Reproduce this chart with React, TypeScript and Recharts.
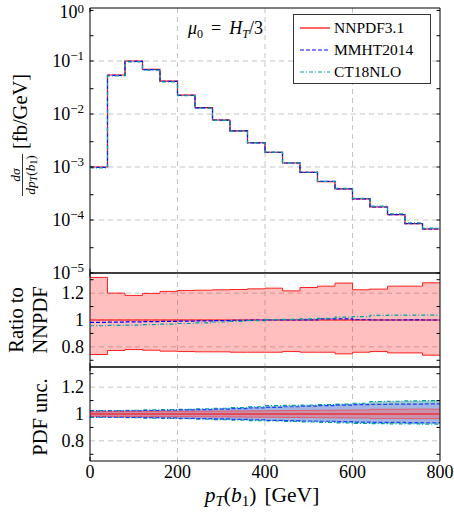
import React from "react";
import {
  ComposedChart,
  Line,
  Area,
  XAxis,
  YAxis,
  CartesianGrid,
  ReferenceLine,
  Legend,
} from "recharts";

// bin edges in GeV (20 bins of 40 GeV)
const binEdges = [0, 40, 80, 120, 160, 200, 240, 280, 320, 360, 400, 440, 480, 520, 560, 600, 640, 680, 720, 760, 800];

// dsigma/dpT(b1) [fb/GeV]
const nnpdfXsec = [1.0e-3, 0.0544, 0.1, 0.0697, 0.0418, 0.0228, 0.0132, 0.0077, 0.0048, 0.00287, 0.0019, 0.00119, 0.00079, 0.00053, 0.000385, 0.00025, 0.000176, 0.000126, 0.0000853, 0.0000676];
const mmhtXsec = [0.98e-3, 0.0536, 0.0987, 0.0689, 0.0414, 0.0226, 0.0131, 0.00767, 0.00479, 0.00286, 0.0019, 0.00119, 0.00079, 0.000535, 0.000388, 0.00025, 0.000176, 0.000126, 0.0000854, 0.0000676];
const ct18Xsec = [0.96e-3, 0.0522, 0.0962, 0.0673, 0.0405, 0.0222, 0.0129, 0.00758, 0.00475, 0.00286, 0.00191, 0.0012, 0.000796, 0.000536, 0.000394, 0.000256, 0.000182, 0.000131, 0.0000885, 0.0000701];

// ratio to NNPDF (scale band + central PDF sets)
const scaleBandUp = [1.317, 1.2, 1.183, 1.198, 1.213, 1.22, 1.222, 1.225, 1.227, 1.232, 1.237, 1.217, 1.242, 1.252, 1.275, 1.225, 1.23, 1.252, 1.252, 1.277];
const scaleBandDn = [0.743, 0.773, 0.78, 0.775, 0.768, 0.765, 0.763, 0.763, 0.76, 0.76, 0.76, 0.765, 0.76, 0.76, 0.748, 0.76, 0.765, 0.755, 0.755, 0.738];
const mmhtRatio = [0.983, 0.984, 0.986, 0.988, 0.99, 0.992, 0.994, 0.996, 0.998, 0.999, 1.0, 1.0, 1.001, 1.008, 1.009, 1.002, 1.0, 1.0, 1.001, 1.0];
const ct18Ratio = [0.957, 0.96, 0.962, 0.966, 0.97, 0.974, 0.978, 0.985, 0.99, 0.995, 1.003, 1.005, 1.008, 1.012, 1.022, 1.025, 1.035, 1.036, 1.037, 1.037];

// PDF uncertainty bands (relative)
const nnpdfPdfUp = [1.017, 1.018, 1.018, 1.019, 1.02, 1.02, 1.021, 1.022, 1.023, 1.024, 1.025, 1.026, 1.027, 1.028, 1.029, 1.03, 1.035, 1.035, 1.036, 1.036];
const nnpdfPdfDn = [0.983, 0.982, 0.982, 0.981, 0.98, 0.98, 0.979, 0.978, 0.977, 0.976, 0.975, 0.974, 0.973, 0.972, 0.971, 0.97, 0.966, 0.966, 0.965, 0.965];
const mmhtPdfUp = [1.021, 1.022, 1.024, 1.026, 1.028, 1.03, 1.033, 1.036, 1.04, 1.045, 1.05, 1.054, 1.058, 1.062, 1.066, 1.07, 1.072, 1.073, 1.074, 1.075];
const mmhtPdfDn = [0.978, 0.976, 0.975, 0.973, 0.971, 0.968, 0.966, 0.963, 0.96, 0.957, 0.953, 0.95, 0.948, 0.946, 0.943, 0.94, 0.938, 0.937, 0.936, 0.935];
const ct18PdfUp = [1.025, 1.026, 1.028, 1.03, 1.032, 1.035, 1.039, 1.043, 1.048, 1.054, 1.062, 1.064, 1.067, 1.07, 1.074, 1.08, 1.093, 1.095, 1.097, 1.1];
const ct18PdfDn = [0.975, 0.974, 0.972, 0.97, 0.968, 0.965, 0.962, 0.958, 0.955, 0.951, 0.948, 0.945, 0.942, 0.938, 0.934, 0.93, 0.928, 0.927, 0.926, 0.925];

const xMajorTicks = [0, 200, 400, 600, 800];
const xGridLines = [200, 400, 600];
const xMinorTicks = [0, 50, 100, 150, 200, 250, 300, 350, 400, 450, 500, 550, 600, 650, 700, 750, 800];
const logMajorTicks = [1e-5, 1e-4, 1e-3, 1e-2, 1e-1, 1];
const logGridLines = [1e-4, 1e-3, 1e-2, 1e-1];
const ratioLabelTicks = [0.8, 1, 1.2];
const ratioMinorTicks = [0.7, 0.8, 0.9, 1, 1.1, 1.2, 1.3];

const logMinorTicks: number[] = [];
for (let e = -5; e < 0; e++) {
  for (let m = 1; m <= 9; m++) logMinorTicks.push(m * Math.pow(10, e));
}

const series = [
  { key: "nnpdf", name: "NNPDF3.1", color: "#ff0000", dash: undefined as string | undefined },
  { key: "mmht", name: "MMHT2014", color: "#0000ff", dash: "4 2" },
  { key: "ct18", name: "CT18NLO", color: "#00a0a0", dash: "4 2 1 2" },
];

// one row per bin edge, last bin repeated so stepAfter closes at 800
const rows = binEdges.map((x, i) => {
  const b = Math.min(i, nnpdfXsec.length - 1);
  return {
    x,
    nnpdf: nnpdfXsec[b],
    mmht: mmhtXsec[b],
    ct18: ct18Xsec[b],
    scaleBand: [scaleBandDn[b], scaleBandUp[b]],
    mmhtRatio: mmhtRatio[b],
    ct18Ratio: ct18Ratio[b],
    nnpdfPdf: [nnpdfPdfDn[b], nnpdfPdfUp[b]],
    mmhtPdf: [mmhtPdfDn[b], mmhtPdfUp[b]],
    ct18Pdf: [ct18PdfDn[b], ct18PdfUp[b]],
  };
});

const FONT = "'Liberation Serif', 'Times New Roman', serif";
const W = 454;
const H = 516;
const AXIS_W = 90;
const RIGHT = 14;
const GRID = "#c4c4c4";
const TICK_FS = 18;
const LABEL_FS = 20.5;

const NoTick = () => <g />;

const LogTick = ({ y, payload }: any) => {
  const e = Math.round(Math.log10(payload.value));
  // keep the 10^0 label inside the picture
  const yy = e === 0 ? y + 9 : y + 6;
  return (
    <text x={84} y={yy} textAnchor="end" fontFamily={FONT} fontSize={TICK_FS} fill="#000">
      10
      <tspan dy={e === 0 ? -5 : -7} fontSize={13}>
        {e === 0 ? "0" : "\u2212" + Math.abs(e)}
      </tspan>
    </text>
  );
};

const RatioTick = ({ y, payload }: any) => (
  <text x={84} y={y + 6} textAnchor="end" fontFamily={FONT} fontSize={TICK_FS} fill="#000">
    {payload.value}
  </text>
);

const XTick = ({ x, payload }: any) => (
  <text x={x} y={478} textAnchor="middle" fontFamily={FONT} fontSize={TICK_FS} fill="#000">
    {payload.value}
  </text>
);

const LegendBox = () => (
  <div
    style={{
      width: 138,
      height: 70,
      boxSizing: "border-box",
      border: "1px solid #333",
      background: "#fff",
      paddingTop: 2,
      paddingLeft: 6,
      fontFamily: FONT,
      fontSize: 15.5,
    }}
  >
    {series.map((s) => (
      <div key={s.key} style={{ display: "flex", alignItems: "center", height: 22 }}>
        <svg width={30} height={6}>
          <line x1={0} x2={30} y1={3} y2={3} stroke={s.color} strokeWidth={1.2} strokeDasharray={s.dash} />
        </svg>
        <span style={{ marginLeft: 4, lineHeight: "22px" }}>{s.name}</span>
      </div>
    ))}
  </div>
);

// frame: four edge lines plus mirrored axes for the inward ticks
const frame = (yTicks: number[], yDomain: number[], log: boolean) => [
  <XAxis key="xb" xAxisId="xb" type="number" domain={[0, 800]} ticks={xMinorTicks} orientation="bottom" mirror height={1} tick={NoTick} axisLine={false} tickSize={4} tickLine={{ stroke: "#000" }} allowDataOverflow />,
  <XAxis key="xt" xAxisId="xt" type="number" domain={[0, 800]} ticks={xMinorTicks} orientation="top" mirror height={1} tick={NoTick} axisLine={false} tickSize={4} tickLine={{ stroke: "#000" }} allowDataOverflow />,
  <YAxis key="yl" yAxisId="yl" type="number" scale={log ? "log" : "linear"} domain={yDomain} ticks={yTicks} orientation="left" mirror width={1} tick={NoTick} axisLine={false} tickSize={3.5} tickLine={{ stroke: "#000" }} allowDataOverflow />,
  <YAxis key="yr" yAxisId="yr" type="number" scale={log ? "log" : "linear"} domain={yDomain} ticks={yTicks} orientation="right" mirror width={1} tick={NoTick} axisLine={false} tickSize={3.5} tickLine={{ stroke: "#000" }} allowDataOverflow />,
  <ReferenceLine key="fl" x={0} stroke="#000" strokeWidth={1} />,
  <ReferenceLine key="fr" x={800} stroke="#000" strokeWidth={1} />,
  <ReferenceLine key="fb" y={yDomain[0]} stroke="#000" strokeWidth={1} />,
  <ReferenceLine key="ft" y={yDomain[1]} stroke="#000" strokeWidth={1} />,
];

export default function App() {
  const abs: React.CSSProperties = { position: "absolute", left: 0, top: 0 };
  const textStyle = { fontFamily: FONT, fill: "#000" };
  return (
    <div style={{ position: "absolute", left: 0, top: 0, width: W, height: H, background: "#fff" }}>
      {/* main distribution */}
      <div style={abs}>
        <ComposedChart width={W} height={H} data={rows} margin={{ top: 8, right: RIGHT, bottom: H - 273, left: 0 }}>
          <CartesianGrid strokeDasharray="5 4" stroke={GRID} horizontalValues={logGridLines} verticalValues={xGridLines} />
          <XAxis dataKey="x" type="number" domain={[0, 800]} ticks={xMajorTicks} height={0} tick={NoTick} tickLine={false} axisLine={false} />
          <YAxis type="number" scale="log" domain={[1e-5, 1]} ticks={logMajorTicks} width={AXIS_W} tick={<LogTick />} tickLine={false} axisLine={false} allowDataOverflow />
          {frame(logMinorTicks, [1e-5, 1], true)}
          {series.map((s) => (
            <Line
              key={s.key}
              dataKey={s.key}
              name={s.name}
              type="stepAfter"
              stroke={s.color}
              strokeWidth={1.2}
              strokeDasharray={s.dash}
              dot={false}
              activeDot={false}
              isAnimationActive={false}
            />
          ))}
          <Legend
            content={<LegendBox />}
            layout="horizontal"
            verticalAlign="middle"
            align="center"
            wrapperStyle={{ position: "absolute", left: 293, top: 14, width: 138, height: 70 }}
          />
        </ComposedChart>
      </div>

      {/* ratio to NNPDF */}
      <div style={abs}>
        <ComposedChart width={W} height={H} data={rows} margin={{ top: 273, right: RIGHT, bottom: H - 367, left: 0 }}>
          <XAxis dataKey="x" type="number" domain={[0, 800]} ticks={xMajorTicks} height={0} tick={NoTick} tickLine={false} axisLine={false} />
          <YAxis type="number" domain={[0.65, 1.35]} ticks={ratioLabelTicks} width={AXIS_W} tick={<RatioTick />} tickLine={false} axisLine={false} allowDataOverflow />
          <Area dataKey="scaleBand" type="stepAfter" fill="#ff0000" fillOpacity={0.25} stroke="#ff2020" strokeWidth={1} dot={false} activeDot={false} isAnimationActive={false} />
          <CartesianGrid strokeDasharray="5 4" stroke={GRID} horizontalValues={ratioLabelTicks} verticalValues={xGridLines} />
          {frame(ratioMinorTicks, [0.65, 1.35], false)}
          <ReferenceLine y={1} stroke="#ff0000" strokeWidth={1.2} />
          <Line dataKey="mmhtRatio" type="stepAfter" stroke="#0000ff" strokeWidth={1.2} strokeDasharray="4 2" dot={false} activeDot={false} isAnimationActive={false} />
          <Line dataKey="ct18Ratio" type="stepAfter" stroke="#00a0a0" strokeWidth={1.2} strokeDasharray="4 2 1 2" dot={false} activeDot={false} isAnimationActive={false} />
        </ComposedChart>
      </div>

      {/* PDF uncertainty */}
      <div style={abs}>
        <ComposedChart width={W} height={H} data={rows} margin={{ top: 367, right: RIGHT, bottom: H - 461 - 30, left: 0 }}>
          <CartesianGrid strokeDasharray="5 4" stroke={GRID} horizontalValues={ratioLabelTicks} verticalValues={xGridLines} />
          <XAxis dataKey="x" type="number" domain={[0, 800]} ticks={xMajorTicks} height={30} tick={<XTick />} tickLine={false} axisLine={false} />
          <YAxis type="number" domain={[0.65, 1.35]} ticks={ratioLabelTicks} width={AXIS_W} tick={<RatioTick />} tickLine={false} axisLine={false} allowDataOverflow />
          {frame(ratioMinorTicks, [0.65, 1.35], false)}
          <Area dataKey="ct18Pdf" type="stepAfter" fill="#9ccccc" fillOpacity={1} stroke="#00a0a0" strokeWidth={1.2} strokeDasharray="4 2 1 2" dot={false} activeDot={false} isAnimationActive={false} />
          <Area dataKey="mmhtPdf" type="stepAfter" fill="#a3b6e3" fillOpacity={1} stroke="#2040ff" strokeWidth={1.2} strokeDasharray="4 2" dot={false} activeDot={false} isAnimationActive={false} />
          <Area dataKey="nnpdfPdf" type="stepAfter" fill="#ff5a5a" fillOpacity={0.4} stroke="#ff3030" strokeOpacity={0.6} strokeWidth={1} dot={false} activeDot={false} isAnimationActive={false} />
          <ReferenceLine y={1} stroke="#ff0000" strokeWidth={1} />
        </ComposedChart>
      </div>

      {/* axis titles and annotation */}
      <svg width={W} height={H} style={{ ...abs, pointerEvents: "none" }}>
        <text x={188} y={34} fontSize={18} {...textStyle}>
          <tspan fontStyle="italic">μ</tspan>
          <tspan fontSize={12} dy={4}>0</tspan>
          <tspan dy={-4} dx={8}>=</tspan>
          <tspan dx={8} fontStyle="italic">H</tspan>
          <tspan fontSize={12} dy={4} fontStyle="italic">T</tspan>
          <tspan dy={-4}>/3</tspan>
        </text>

        <g transform="translate(27,140) rotate(-90)">
          <text x={-35} y={-7} fontSize={13.5} textAnchor="middle" {...textStyle}>
            <tspan fontStyle="italic">dσ</tspan>
          </text>
          <line x1={-56} x2={-14} y1={-4.5} y2={-4.5} stroke="#000" strokeWidth={0.8} />
          <text x={-35} y={7.5} fontSize={13.5} textAnchor="middle" {...textStyle}>
            <tspan fontStyle="italic">dp</tspan>
            <tspan fontSize={9.5} dy={2.5} fontStyle="italic">T</tspan>
            <tspan dy={-2.5}>(</tspan>
            <tspan fontStyle="italic">b</tspan>
            <tspan fontSize={9.5} dy={2.5}>1</tspan>
            <tspan dy={-2.5}>)</tspan>
          </text>
          <text x={-9} y={0} fontSize={LABEL_FS} {...textStyle}>
            [fb/GeV]
          </text>
        </g>

        <text transform="translate(23,320) rotate(-90)" textAnchor="middle" fontSize={LABEL_FS} {...textStyle}>
          Ratio to
        </text>
        <text transform="translate(47,320) rotate(-90)" textAnchor="middle" fontSize={LABEL_FS} {...textStyle}>
          NNPDF
        </text>
        <text transform="translate(47,417) rotate(-90)" textAnchor="middle" fontSize={LABEL_FS} {...textStyle}>
          PDF unc.
        </text>

        <text x={262} y={502} textAnchor="middle" fontSize={21.5} {...textStyle}>
          <tspan fontStyle="italic">p</tspan>
          <tspan fontSize={15} dy={4} fontStyle="italic">T</tspan>
          <tspan dy={-4}>(</tspan>
          <tspan fontStyle="italic">b</tspan>
          <tspan fontSize={15} dy={4}>1</tspan>
          <tspan dy={-4}>)</tspan>
          <tspan dx={8}>[GeV]</tspan>
        </text>
      </svg>
    </div>
  );
}
